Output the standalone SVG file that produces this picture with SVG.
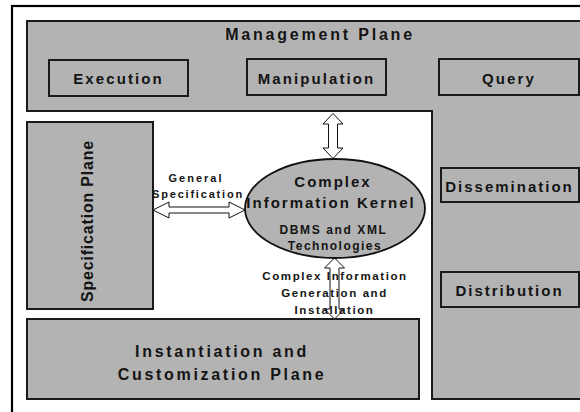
<svg xmlns="http://www.w3.org/2000/svg" width="580" height="412" viewBox="0 0 580 412">
<style>
.g{fill:#b3b3b3;stroke:#1a1a1a;stroke-width:2}
.t{font-family:"Liberation Sans",Arial,sans-serif;font-weight:bold;fill:#141414;text-anchor:middle}
.arr{fill:#fff;stroke:#111;stroke-width:1}
</style>
<rect x="0" y="0" width="580" height="412" fill="#fff"/>
<rect x="12" y="6" width="600" height="430" fill="none" stroke="#000" stroke-width="2.2"/>
<g id="management-plane">
<path class="g" d="M27,21 H590 V399 H432 V111 H27 Z"/>
<text class="t" x="320" y="40" font-size="16" letter-spacing="2.8">Management Plane</text>
</g>
<g id="execution">
<rect class="g" x="49" y="60" width="139" height="36"/>
<text class="t" x="118.5" y="84" font-size="15" letter-spacing="2.1">Execution</text>
</g>
<g id="manipulation">
<rect class="g" x="247" y="59" width="139" height="36"/>
<text class="t" x="316.5" y="84" font-size="15" letter-spacing="2.1">Manipulation</text>
</g>
<g id="query">
<rect class="g" x="439" y="59" width="140" height="36"/>
<text class="t" x="509" y="84" font-size="15" letter-spacing="2.1">Query</text>
</g>
<g id="dissemination">
<rect class="g" x="441" y="168" width="138" height="34"/>
<text class="t" x="509.5" y="191.5" font-size="15" letter-spacing="2">Dissemination</text>
</g>
<g id="distribution">
<rect class="g" x="441" y="272" width="138" height="35"/>
<text class="t" x="509.5" y="296" font-size="15" letter-spacing="2">Distribution</text>
</g>
<g id="specification-plane">
<rect class="g" x="27" y="122" width="126" height="187"/>
<text class="t" transform="translate(93,221) rotate(-90)" x="0" y="0" font-size="16" letter-spacing="0.8">Specification Plane</text>
</g>
<g id="instantiation-plane">
<rect class="g" x="27" y="319" width="392" height="80"/>
<text class="t" x="222" y="357" font-size="16" letter-spacing="2.7">Instantiation and</text>
<text class="t" x="222" y="380" font-size="16" letter-spacing="2.7">Customization Plane</text>
</g>
<g id="connectors">
<polygon class="arr" points="153,210 169,202 169,207 229,207 229,202 245,210 229,218 229,213 169,213 169,218"/>
<polygon class="arr" points="333,113.5 343,124 337.5,124 337.5,148 343,148 333,158.5 323,148 328.5,148 328.5,124 323,124"/>
<polygon class="arr" points="334.5,258 344.5,268 339,268 339,309 344.5,309 334.5,319 324.5,309 330,309 330,268 324.5,268"/>
<text class="t" x="196" y="182" font-size="11" letter-spacing="2">General</text>
<text class="t" x="198" y="198" font-size="11" letter-spacing="1.8">Specification</text>
<text class="t" x="335" y="280" font-size="11.5" letter-spacing="1.6">Complex Information</text>
<text class="t" x="334.5" y="297" font-size="11.5" letter-spacing="1.6">Generation and</text>
<text class="t" x="334.5" y="314" font-size="11.5" letter-spacing="1.6">Installation</text>
</g>
<g id="kernel">
<ellipse cx="335" cy="208.5" rx="90" ry="49.5" fill="#b3b3b3" stroke="#111" stroke-width="1.8"/>
<text class="t" x="333" y="187" font-size="15" letter-spacing="2">Complex</text>
<text class="t" x="331" y="208" font-size="15" letter-spacing="2">Information Kernel</text>
<text class="t" x="333.5" y="234" font-size="12" letter-spacing="1.6">DBMS and XML</text>
<text class="t" x="335" y="250" font-size="12" letter-spacing="1.5">Technologies</text>
</g>
</svg>
